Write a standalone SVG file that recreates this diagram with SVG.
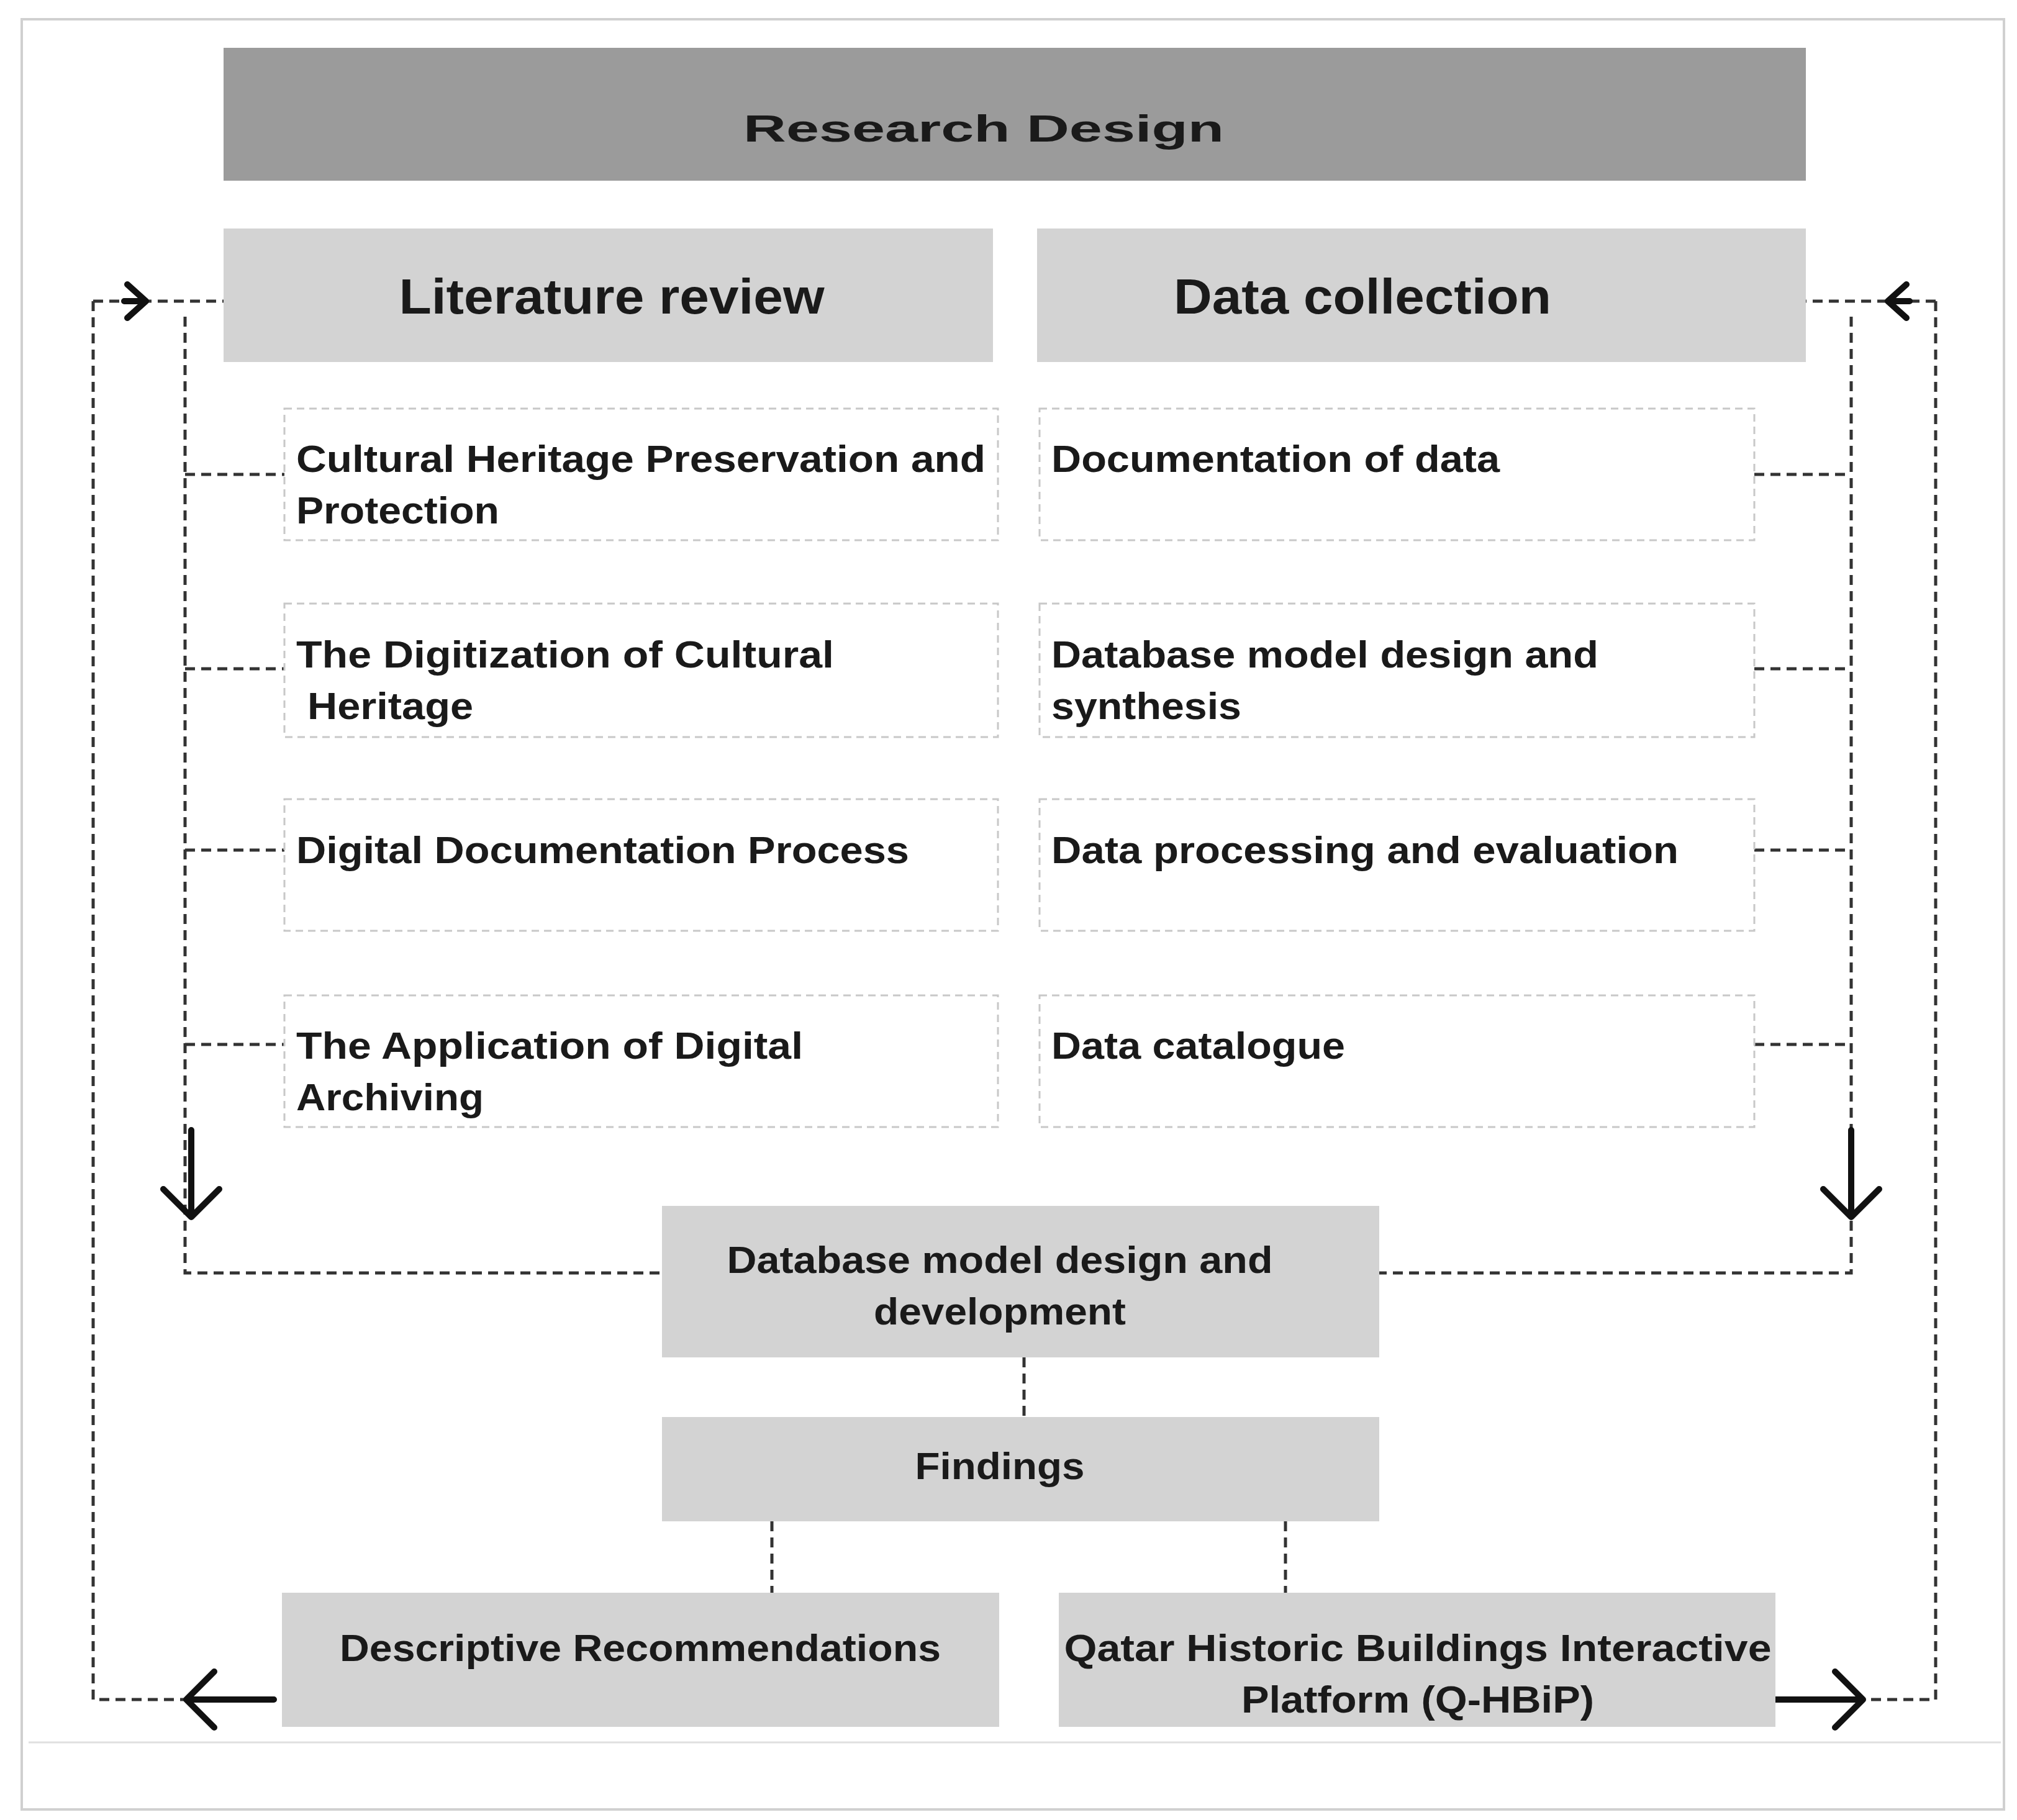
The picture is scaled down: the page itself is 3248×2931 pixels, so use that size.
<svg xmlns="http://www.w3.org/2000/svg" width="3248" height="2931" viewBox="0 0 3248 2931">
<style>
.t{font-family:"Liberation Sans",Arial,sans-serif;font-weight:bold;fill:#1a1a1a;font-size:62px}
.h{font-size:80px}
.sub{fill:none;stroke:#c8c8c8;stroke-width:3;stroke-dasharray:12 8}
.dl{fill:none;stroke:#333;stroke-width:5;stroke-dasharray:16 10}
.ar{fill:none;stroke:#111;stroke-width:10;stroke-linecap:round;stroke-linejoin:round}
</style>
<rect width="3248" height="2931" fill="#fff"/>
<rect x="35" y="31" width="3192" height="2883" fill="none" stroke="#d0d0d0" stroke-width="4"/>
<line x1="46" y1="2806" x2="3222" y2="2806" stroke="#e0e0e0" stroke-width="3"/>
<g id="connectors">
<path class="dl" d="M150 485H360M298 510V2050H1066"/>
<path class="dl" d="M298 764H458M298 1077H458M298 1369H458M298 1682H458"/>
<path class="dl" d="M3117 485H2908M2981 510V2050H2221"/>
<path class="dl" d="M2825 764H2981M2825 1077H2981M2825 1369H2981M2825 1682H2981"/>
<path class="dl" d="M150 485V2737H441M3117 485V2737H2859"/>
<path class="dl" d="M1649 2186V2282M1243 2450V2565M2070 2450V2565"/>
<path class="ar" d="M200 485H235M205 458L235 485L205 512"/>
<path class="ar" d="M3075 485H3040M3070 458L3040 485L3070 512"/>
<path class="ar" d="M308 1820V1960M263 1915L308 1960L353 1915"/>
<path class="ar" d="M2981 1820V1960M2936 1915L2981 1960L3026 1915"/>
<path class="ar" d="M441 2737H300M345 2692L300 2737L345 2782"/>
<path class="ar" d="M2859 2737H3000M2955 2692L3000 2737L2955 2782"/>
</g>
<g id="research-design"><rect x="360" y="77" width="2548" height="214" fill="#9b9b9b"/>
<text class="t" x="1584" y="228" font-size="94" text-anchor="middle" textLength="774" lengthAdjust="spacingAndGlyphs">Research Design</text></g>
<g id="literature-review"><rect x="360" y="368" width="1239" height="215" fill="#d3d3d3"/>
<text class="t h" x="985" y="505" text-anchor="middle" textLength="685" lengthAdjust="spacingAndGlyphs">Literature review</text></g>
<g id="data-collection"><rect x="1670" y="368" width="1238" height="215" fill="#d3d3d3"/>
<text class="t h" x="2194" y="505" text-anchor="middle" textLength="608" lengthAdjust="spacingAndGlyphs">Data collection</text></g>
<g id="lit1"><rect class="sub" x="458" y="658" width="1149" height="212"/>
<text class="t" x="477" y="760" textLength="1110" lengthAdjust="spacingAndGlyphs">Cultural Heritage Preservation and</text>
<text class="t" x="477" y="843" textLength="327" lengthAdjust="spacingAndGlyphs">Protection</text></g>
<g id="lit2"><rect class="sub" x="458" y="972" width="1149" height="215"/>
<text class="t" x="477" y="1075" textLength="866" lengthAdjust="spacingAndGlyphs">The Digitization of Cultural</text>
<text class="t" x="495" y="1158" textLength="267" lengthAdjust="spacingAndGlyphs">Heritage</text></g>
<g id="lit3"><rect class="sub" x="458" y="1287" width="1149" height="212"/>
<text class="t" x="477" y="1390" textLength="987" lengthAdjust="spacingAndGlyphs">Digital Documentation Process</text></g>
<g id="lit4"><rect class="sub" x="458" y="1603" width="1149" height="212"/>
<text class="t" x="477" y="1705" textLength="816" lengthAdjust="spacingAndGlyphs">The Application of Digital</text>
<text class="t" x="477" y="1788" textLength="302" lengthAdjust="spacingAndGlyphs">Archiving</text></g>
<g id="dc1"><rect class="sub" x="1674" y="658" width="1151" height="212"/>
<text class="t" x="1693" y="760" textLength="722" lengthAdjust="spacingAndGlyphs">Documentation of data</text></g>
<g id="dc2"><rect class="sub" x="1674" y="972" width="1151" height="215"/>
<text class="t" x="1693" y="1075" textLength="881" lengthAdjust="spacingAndGlyphs">Database model design and</text>
<text class="t" x="1693" y="1158" textLength="306" lengthAdjust="spacingAndGlyphs">synthesis</text></g>
<g id="dc3"><rect class="sub" x="1674" y="1287" width="1151" height="212"/>
<text class="t" x="1693" y="1390" textLength="1010" lengthAdjust="spacingAndGlyphs">Data processing and evaluation</text></g>
<g id="dc4"><rect class="sub" x="1674" y="1603" width="1151" height="212"/>
<text class="t" x="1693" y="1705" textLength="473" lengthAdjust="spacingAndGlyphs">Data catalogue</text></g>
<g id="db-model"><rect x="1066" y="1942" width="1155" height="244" fill="#d3d3d3"/>
<text class="t" x="1610" y="2050" text-anchor="middle" textLength="879" lengthAdjust="spacingAndGlyphs">Database model design and</text>
<text class="t" x="1610" y="2133" text-anchor="middle" textLength="406" lengthAdjust="spacingAndGlyphs">development</text></g>
<g id="findings"><rect x="1066" y="2282" width="1155" height="168" fill="#d3d3d3"/>
<text class="t" x="1610" y="2382" text-anchor="middle" textLength="273" lengthAdjust="spacingAndGlyphs">Findings</text></g>
<g id="recommendations"><rect x="454" y="2565" width="1155" height="216" fill="#d3d3d3"/>
<text class="t" x="1031" y="2675" text-anchor="middle" textLength="968" lengthAdjust="spacingAndGlyphs">Descriptive Recommendations</text></g>
<g id="qhbip"><rect x="1705" y="2565" width="1154" height="216" fill="#d3d3d3"/>
<text class="t" x="2283" y="2675" text-anchor="middle" textLength="1139" lengthAdjust="spacingAndGlyphs">Qatar Historic Buildings Interactive</text>
<text class="t" x="2283" y="2758" text-anchor="middle" textLength="568" lengthAdjust="spacingAndGlyphs">Platform (Q-HBiP)</text></g>
</svg>
